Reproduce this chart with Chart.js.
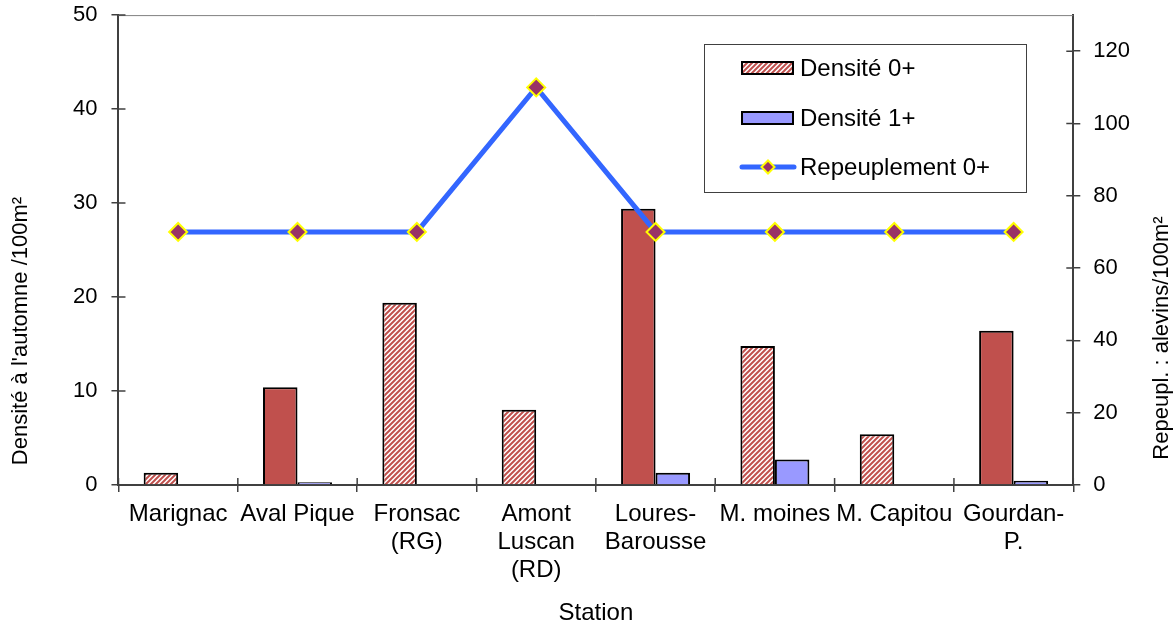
<!DOCTYPE html>
<html>
<head>
<meta charset="utf-8">
<script src="https://cdn.jsdelivr.net/npm/chart.js@4.4.1/dist/chart.umd.min.js"></script>
<style>body{margin:0;background:#fff}</style>
</head>
<body>
<canvas id="myChart" width="1175" height="628"></canvas>
<script>
// data
const stations = ["Marignac", "Aval Pique", ["Fronsac", "(RG)"], ["Amont", "Luscan", "(RD)"],
  ["Loures-", "Barousse"], "M. moines", "M. Capitou", ["Gourdan-", "P."]];
const densite0 = [1.3, 10.4, 19.4, 8.0, 29.4, 14.8, 5.4, 16.4];
const densite1 = [0, 0.3, 0, 0, 1.3, 2.7, 0, 0.45];
const repeuplement0 = [70, 70, 70, 110, 70, 70, 70, 70];
const seriesNames = ["Densité 0+", "Densité 1+", "Repeuplement 0+"];

// which 0+ bars are drawn hatched in the original (style, not data)
const hatched = [true, false, true, true, false, true, true, false];

const RED = '#c0504d', BLUE_BAR = '#9999ff', LINE = '#3366ff', MARK = '#993366', MARK_EDGE = '#ffff00';
const AXIS = '#404040';
const FONT = "'Liberation Sans', Arial, sans-serif";

Chart.defaults.font.family = FONT;
Chart.defaults.font.size = 22;
Chart.defaults.color = '#000';

const cv = document.getElementById("myChart");
const ctx = cv.getContext('2d');

function makeHatch() {
  const c = document.createElement('canvas');
  c.width = 5; c.height = 5;
  const g = c.getContext('2d');
  g.fillStyle = '#fff';
  g.fillRect(0, 0, 5, 5);
  g.strokeStyle = RED;
  g.lineWidth = 2;
  g.beginPath();
  g.moveTo(-1, 6); g.lineTo(6, -1);
  g.moveTo(-1, 1); g.lineTo(1, -1);
  g.moveTo(4, 6); g.lineTo(6, 4);
  g.stroke();
  return ctx.createPattern(c, 'repeat');
}
const hatch = makeHatch();

function diamond(c, x, y, r) {
  c.beginPath();
  c.moveTo(x - r, y); c.lineTo(x, y - r); c.lineTo(x + r, y); c.lineTo(x, y + r);
  c.closePath();
  c.fillStyle = MARK; c.fill();
  c.strokeStyle = MARK_EDGE; c.lineWidth = 2; c.stroke();
}

const decor = {
  id: 'decor',
  afterDraw(chart) {
    const c = chart.ctx, a = chart.chartArea, s = chart.scales;
    c.save();
    // top border of plot area
    c.strokeStyle = '#808080'; c.lineWidth = 1;
    c.beginPath(); c.moveTo(a.left, a.top + 0.5); c.lineTo(a.right, a.top + 0.5); c.stroke();

    // tick marks crossing into the plot
    c.strokeStyle = AXIS; c.lineWidth = 1.5;
    c.beginPath();
    s.y.ticks.forEach(t => { const y = s.y.getPixelForValue(t.value); c.moveTo(a.left, y); c.lineTo(a.left + 7, y); });
    s.y2.ticks.forEach(t => { const y = s.y2.getPixelForValue(t.value); c.moveTo(a.right, y); c.lineTo(a.right - 7, y); });
    const n = stations.length;
    for (let i = 0; i <= n; i++) {
      const x = a.left + i * (a.right - a.left) / n;
      c.moveTo(x, a.bottom); c.lineTo(x, a.bottom - 7);
    }
    c.stroke();

    // legend box
    c.fillStyle = '#fff';
    c.fillRect(704, 44, 322, 148);
    c.strokeStyle = AXIS; c.lineWidth = 1;
    c.strokeRect(704.5, 44.5, 322, 148);
    c.font = "24px " + FONT;
    c.textBaseline = 'middle';
    c.textAlign = 'left';
    const rows = [68, 118, 167];
    // Densité 0+
    c.fillStyle = hatch; c.fillRect(742, rows[0] - 6, 51, 12);
    c.strokeStyle = '#000'; c.lineWidth = 2; c.strokeRect(742, rows[0] - 6, 51, 12);
    // Densité 1+
    c.fillStyle = BLUE_BAR; c.fillRect(742, rows[1] - 6, 51, 12);
    c.strokeRect(742, rows[1] - 6, 51, 12);
    // Repeuplement 0+
    c.strokeStyle = LINE; c.lineWidth = 5; c.lineCap = 'round';
    c.beginPath(); c.moveTo(742, rows[2]); c.lineTo(794, rows[2]); c.stroke();
    c.lineCap = 'butt';
    diamond(c, 768, rows[2], 6.5);
    c.fillStyle = '#000';
    seriesNames.forEach((t, i) => c.fillText(t, 800, rows[i] + 1));

    // axis titles
    c.font = "22px " + FONT;
    c.textAlign = 'center';
    c.save();
    c.translate(21, 331); c.rotate(-Math.PI / 2);
    c.fillText("Densité à l'automne /100m²", 0, 0);
    c.restore();
    c.save();
    c.translate(1162, 338); c.rotate(-Math.PI / 2);
    c.fillText("Repeupl. : alevins/100m²", 0, 0);
    c.restore();
    c.restore();
  }
};

const config = {
  type: 'bar',
  data: {
    labels: stations,
    datasets: [
      {
        type: 'line',
        label: seriesNames[2],
        data: repeuplement0,
        yAxisID: 'y2',
        order: 0,
        borderColor: LINE,
        borderWidth: 5,
        tension: 0,
        pointStyle: 'rectRot',
        pointRadius: 9,
        pointBackgroundColor: MARK,
        pointBorderColor: MARK_EDGE,
        pointBorderWidth: 2
      },
      {
        label: seriesNames[0],
        data: densite0,
        yAxisID: 'y',
        order: 1,
        backgroundColor: hatched.map(h => h ? hatch : RED),
        borderColor: '#000',
        borderWidth: 2,
        barPercentage: 1,
        categoryPercentage: 0.578
      },
      {
        label: seriesNames[1],
        data: densite1,
        yAxisID: 'y',
        order: 1,
        backgroundColor: BLUE_BAR,
        borderColor: '#000',
        borderWidth: 2,
        barPercentage: 1,
        categoryPercentage: 0.578
      }
    ]
  },
  options: {
    responsive: false,
    animation: false,
    layout: { padding: { left: 59, right: 32, top: 0, bottom: 0 } },
    plugins: { legend: { display: false }, tooltip: { enabled: false } },
    scales: {
      x: {
        offset: true,
        grid: { offset: true, drawOnChartArea: false, tickLength: 7, color: AXIS, lineWidth: 1.5 },
        border: { color: AXIS, width: 2 },
        ticks: { maxRotation: 0, minRotation: 0, autoSkip: false, padding: 8, font: { size: 24, lineHeight: 1.17 } },
        title: { display: true, text: 'Station', font: { size: 24 }, padding: { top: 7, bottom: 0 } }
      },
      y: {
        position: 'left',
        min: 0, max: 50,
        ticks: { stepSize: 10, padding: 14, font: { lineHeight: 0.1 } },
        grid: { drawOnChartArea: false, tickLength: 7, color: AXIS, lineWidth: 1.5 },
        border: { color: AXIS, width: 2 }
      },
      y2: {
        position: 'right',
        min: 0, max: 130,
        ticks: { stepSize: 20, padding: 13, font: { lineHeight: 0.1 } },
        afterBuildTicks: s => { s.ticks = s.ticks.filter(t => t.value % 20 === 0); },
        grid: { drawOnChartArea: false, tickLength: 7, color: AXIS, lineWidth: 1.5 },
        border: { color: AXIS, width: 2 }
      }
    }
  },
  plugins: [decor]
};

new Chart(cv, config);
console.log("done.");
</script>
</body>
</html>
